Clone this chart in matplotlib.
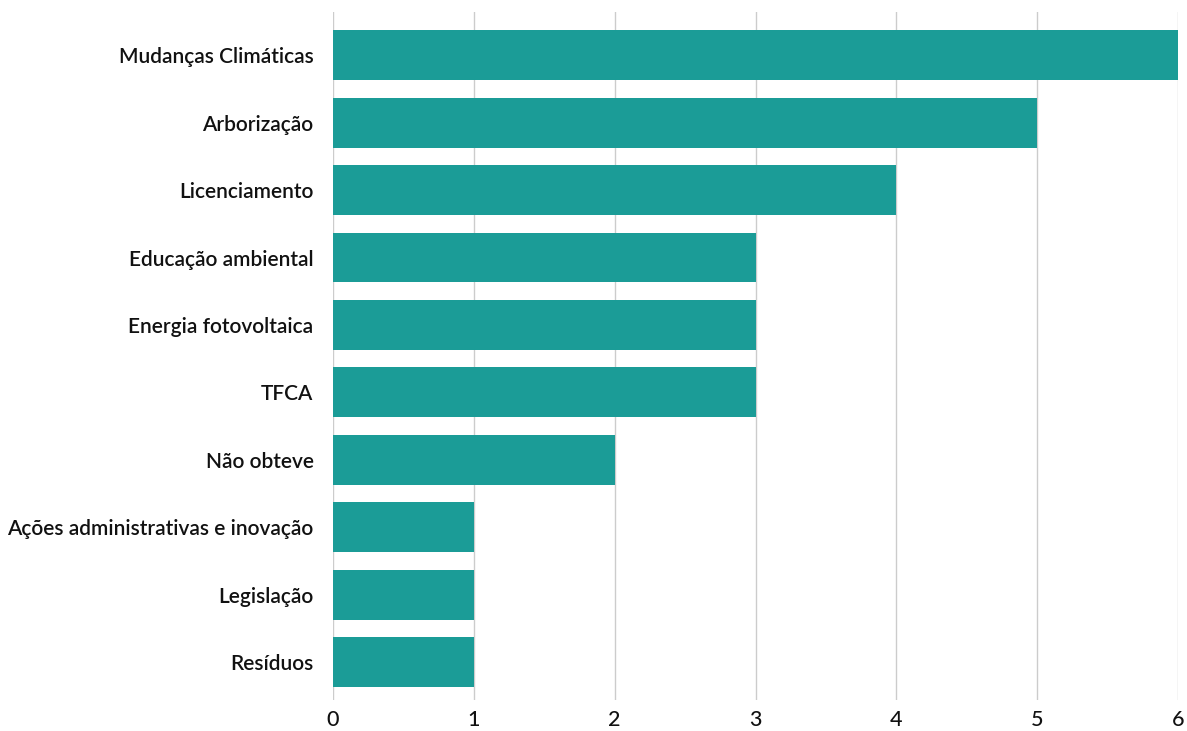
import numpy as np
import matplotlib.pyplot as plt

plt.rcParams['font.family'] = ['Lato', 'DejaVu Sans']

temas = ["Mudanças Climáticas", "Arborização", "Licenciamento",
         "Educação ambiental", "Energia fotovoltaica", "TFCA",
         "Não obteve", "Ações administrativas e inovação",
         "Legislação", "Resíduos"]
contagem = [6, 5, 4, 3, 3, 3, 2, 1, 1, 1]
ticks_x = [0, 1, 2, 3, 4, 5, 6]

cor = "#1b9c97"

fig = plt.figure(figsize=(11.87, 7.31), dpi=100)
ax = fig.add_axes([333 / 1187, 31 / 731, (1178 - 333) / 1187, (719 - 31) / 731])

y = np.arange(len(temas))
ax.barh(y, contagem, height=0.74, color=cor, zorder=2)

ax.set_xlim(0, 6)
ax.set_ylim(9.56, -0.64)
ax.set_yticks(y)
ax.set_yticklabels(temas, fontsize=15, fontweight="semibold", color="#111111")
ax.set_xticks(ticks_x)
ax.set_xticklabels([str(t) for t in ticks_x], fontsize=15.5, fontweight="medium", color="#111111")

ax.grid(axis="x", color="#cccccc", linewidth=1, zorder=0)
for s in ax.spines.values():
    s.set_visible(False)
ax.tick_params(axis="y", length=0, pad=14)
ax.tick_params(axis="x", length=0, pad=7)

fig.savefig("out.png", dpi=100)
